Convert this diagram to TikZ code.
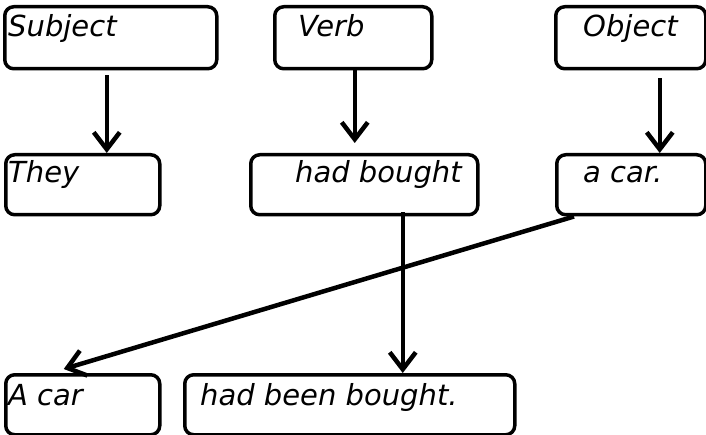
\documentclass[tikz,border=0pt]{standalone}
\usepackage{fontspec}
\setmainfont{DejaVu Sans}
\usetikzlibrary{arrows.meta}

\tikzset{
  box/.style={draw, line width=3.5pt, rounded corners=9pt, anchor=north west, inner sep=0pt},
  word/.style={anchor=base west, inner sep=0pt, font=\fontsize{29}{32}\selectfont\itshape},
  conn/.style={line width=4.5pt, -{Straight Barb[length=17pt, width=26pt, line width=4.5pt]}}
}

\begin{document}
\begin{tikzpicture}[x=1pt, y=-1pt]
% 1. page frame
\useasboundingbox (0, 0) rectangle (706, 435);

% 2. boxes
\node[box, minimum width=212pt, minimum height=62pt] (subj) at (3, 5) {};
\node[box, minimum width=157pt, minimum height=62pt] (verb) at (273, 5) {};
\node[box, minimum width=150pt, minimum height=62pt] (obj) at (554, 5) {};
\node[box, minimum width=154pt, minimum height=60pt] (they) at (4, 153) {};
\node[box, minimum width=227pt, minimum height=60pt] (hadb) at (249, 153) {};
\node[box, minimum width=149pt, minimum height=60pt] (acar) at (555, 153) {};
\node[box, minimum width=154pt, minimum height=60pt] (pacar) at (4, 373) {};
\node[box, minimum width=330pt, minimum height=60pt] (hbb) at (183, 373) {};

% 3. words
\node[word] (subjT) at (8, 37) {Subject};
\node[word] (verbT) at (298, 37) {Verb};
\node[word] (objT) at (583, 37) {Object};
\node[word] (theyT) at (8, 183) {They};
\node[word] (hadbT) at (295, 183) {had bought};
\node[word] (acarT) at (583, 183) {a car.};
\node[word] (pacarT) at (8, 405) {A car};
\node[word] (hbbT) at (200, 405) {had been bought.};

% 4. arrows
\draw[conn] ([xshift=-4pt, yshift=-5pt]subj.south) -- ([xshift=24pt]they.north);
\draw[conn] ([xshift=1.5pt]verb.south) -- ([xshift=-9.5pt, yshift=10pt]hadb.north);
\draw[conn] ([xshift=29pt, yshift=-8pt]obj.south) -- ([xshift=28.5pt]acar.north);
\draw[conn] ([xshift=38.5pt, yshift=4pt]hadb.south) -- ([xshift=53pt]hbb.north);
\draw[conn] ([xshift=19pt]acar.south west) -- ([xshift=-19pt, yshift=4pt]pacar.north);
\end{tikzpicture}
\end{document}
